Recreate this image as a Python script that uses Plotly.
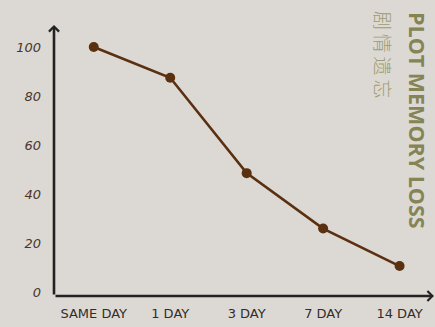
import plotly.graph_objects as go

categories = ["SAME DAY", "1 DAY", "3 DAY", "7 DAY", "14 DAY"]
retention = [100, 87.5, 48.6, 26, 10.7]
y_ticks = [0, 20, 40, 60, 80, 100]

W, H = 435, 327
ML, MR, MT, MB = 54, 1, 25, 31
XR = [-0.52, 4.45]
YR = [-1.5, 109]

fig = go.Figure()
fig.add_trace(go.Scatter(
    x=list(range(len(categories))), y=retention, mode="lines+markers",
    line=dict(color="#5a3010", width=2.6),
    marker=dict(color="#5a3010", size=10),
    cliponaxis=False, hoverinfo="skip", showlegend=False,
))

# axis lines with arrows
fig.add_annotation(x=XR[1], y=YR[0], ax=XR[0], ay=YR[0], xref="x", yref="y",
                   axref="x", ayref="y", text="", showarrow=True, arrowhead=4,
                   arrowsize=0.75, arrowwidth=2.6, arrowcolor="#222222",
                   standoff=0, startstandoff=0)
fig.add_annotation(x=XR[0], y=YR[1], ax=XR[0], ay=YR[0], xref="x", yref="y",
                   axref="x", ayref="y", text="", showarrow=True, arrowhead=4,
                   arrowsize=0.75, arrowwidth=2.6, arrowcolor="#222222",
                   standoff=0, startstandoff=0)

pw, ph = W - ML - MR, H - MT - MB
def px(xp):
    return (xp - ML) / pw
def py(yp):
    return (H - MB - yp) / ph

fig.add_annotation(x=px(418), y=py(120), xref="paper", yref="paper",
                   text="<b>PLOT MEMORY LOSS</b>", textangle=90, showarrow=False,
                   xanchor="center", yanchor="middle",
                   font=dict(family="Open Sans", size=21.5, color="#858455"))
fig.add_annotation(x=px(384), y=py(54), xref="paper", yref="paper",
                   text="剧\u2009情\u2009遗\u2009忘", textangle=90, showarrow=False,
                   xanchor="center", yanchor="middle",
                   font=dict(family="Noto Sans CJK SC", size=19, color="#9c9c72",
                             weight=300))

fig.update_xaxes(range=XR, tickmode="array",
                 tickvals=list(range(len(categories))), ticktext=categories,
                 showgrid=False, zeroline=False, showline=False, ticks="",
                 ticklabelstandoff=8,
                 tickfont=dict(family="DejaVu Sans", size=13, color="#342c28"))
fig.update_yaxes(range=YR, tickmode="array", tickvals=y_ticks,
                 ticktext=[str(v) for v in y_ticks],
                 showgrid=False, zeroline=False, showline=False, ticks="",
                 ticklabelstandoff=12,
                 tickfont=dict(family="DejaVu Sans", size=13, color="#4a3628",
                               style="italic"))

fig.update_layout(width=W, height=H, margin=dict(l=ML, r=MR, t=MT, b=MB),
                  paper_bgcolor="#dcd9d5", plot_bgcolor="#dcd9d5",
                  showlegend=False)

fig.write_html("out.html")
